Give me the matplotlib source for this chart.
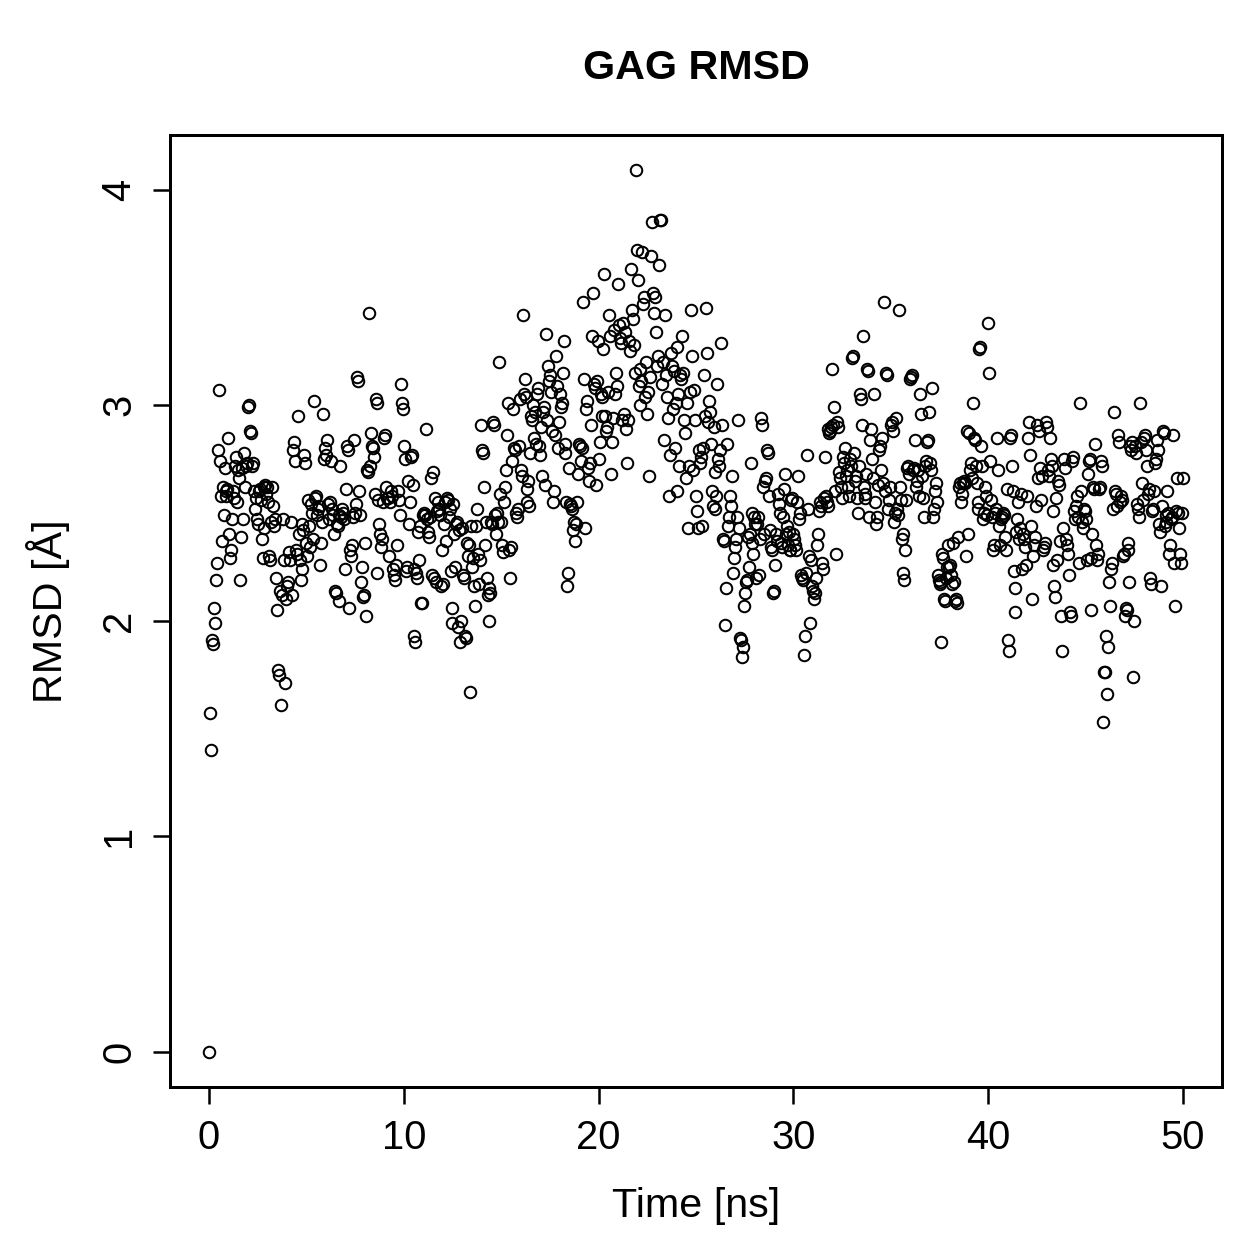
import numpy as np
import matplotlib
matplotlib.use("Agg")
import matplotlib.pyplot as plt

plt.rcParams['font.family'] = ['Liberation Sans', 'DejaVu Sans']

# frame spacing of the trajectory (ns)
dt = 0.05

# RMSD per frame, roughly one row per ns
rmsd = [
    0.00, 1.57, 1.40, 1.91, 1.89, 2.06, 1.99, 2.19, 2.27, 2.79, 3.07, 2.74, 2.58, 2.37, 2.62, 2.49, 2.71, 2.60, 2.58, 2.61,
    2.85, 2.40, 2.29, 2.33, 2.47, 2.60, 2.57, 2.72, 2.76, 2.55, 2.70, 2.66, 2.19, 2.39, 2.71, 2.47, 2.78, 2.62, 2.72, 2.73,
    2.99, 3.00, 2.88, 2.87, 2.72, 2.73, 2.60, 2.52, 2.57, 2.47, 2.45, 2.60, 2.61, 2.56, 2.38, 2.29, 2.43, 2.62, 2.63, 2.59, 2.62, 2.55, 2.30,
    2.28, 2.46, 2.62, 2.53, 2.44, 2.47, 2.20, 2.05, 1.77, 1.75, 2.14, 1.61, 2.12, 2.47, 2.28, 1.71, 2.10, 2.16, 2.18, 2.32, 2.28, 2.46, 2.12,
    2.79, 2.83, 2.74, 2.33, 2.31, 2.95, 2.40, 2.28, 2.19, 2.24, 2.45, 2.42, 2.77, 2.73, 2.36, 2.30, 2.56, 2.44, 2.34, 2.54, 2.50, 2.38,
    3.02, 2.57, 2.58, 2.49, 2.52, 2.53, 2.26, 2.36, 2.46, 2.96, 2.75, 2.80, 2.77, 2.84, 2.54, 2.47, 2.55, 2.74, 2.52, 2.49,
    2.40, 2.14, 2.13, 2.45, 2.44, 2.09, 2.49, 2.72, 2.48, 2.52, 2.50, 2.47, 2.24, 2.61, 2.81, 2.79, 2.06, 2.33, 2.30, 2.35,
    2.48, 2.84, 2.50, 2.54, 3.13, 3.11, 2.60, 2.49, 2.18, 2.25, 2.11, 2.12, 2.36, 2.02, 2.70, 2.69, 3.43, 2.72, 2.87, 2.81,
    2.80, 2.76, 2.59, 3.03, 3.01, 2.22, 2.56, 2.45, 2.40, 2.34, 2.38, 2.55, 2.85, 2.86, 2.62, 2.57, 2.57, 2.30, 2.55, 2.60,
    2.58, 2.24, 2.21, 2.19, 2.26, 2.35, 2.60, 2.56, 2.49, 3.10, 3.01, 2.98, 2.81, 2.75, 2.23, 2.25, 2.65, 2.45, 2.55, 2.76,
    2.77, 2.63, 1.93, 2.24, 1.90, 2.22, 2.20, 2.41, 2.28, 2.44, 2.08, 2.08, 2.49, 2.50, 2.49, 2.89, 2.47, 2.41, 2.39, 2.48,
    2.66, 2.21, 2.69, 2.20, 2.57, 2.18, 2.51, 2.55, 2.52, 2.49, 2.16, 2.33, 2.17, 2.45, 2.55, 2.37, 2.57, 2.56, 2.48, 2.52,
    2.23, 2.06, 1.99, 2.54, 2.40, 2.25, 2.45, 2.46, 1.97, 2.42, 1.90, 2.00, 2.43, 2.21, 2.20, 1.93, 1.92, 2.36, 2.30, 2.35,
    1.67, 2.44, 2.25, 2.29, 2.16, 2.07, 2.44, 2.52, 2.31, 2.17, 2.28, 2.91, 2.79, 2.78, 2.62, 2.35, 2.46, 2.20, 2.12, 2.15,
    2.00, 2.13, 2.46, 2.45, 2.92, 2.91, 2.49, 2.40, 2.50, 2.46, 3.20, 2.59, 2.46, 2.35, 2.32, 2.55, 2.62, 2.70, 2.86, 3.01,
    2.33, 2.20, 2.34, 2.74, 2.98, 2.80, 2.79, 2.50, 2.48, 2.52, 2.81, 3.03, 2.70, 2.67, 3.42, 3.05, 3.12, 3.04, 2.55, 2.61,
    2.65, 2.53, 2.78, 2.95, 2.93, 3.00, 2.85, 2.97, 2.82, 3.05, 3.08, 2.81, 2.77, 2.90, 2.67, 2.97, 2.99, 2.63, 3.33, 2.93,
    3.18, 3.11, 3.14, 3.06, 2.88, 2.55, 2.60, 2.86, 3.23, 3.09, 2.80, 2.92, 3.05, 2.99, 3.01, 3.15, 3.30, 2.82, 2.78, 2.55,
    2.16, 2.22, 2.71, 2.54, 2.53, 2.52, 2.42, 2.46, 2.37, 2.45, 2.55, 2.68, 2.82, 2.81, 2.74, 2.80, 3.48, 3.12, 2.43, 2.98,
    3.02, 2.71, 2.65, 2.73, 2.91, 3.32, 3.52, 3.10, 3.08, 2.63, 3.11, 3.30, 2.75, 2.83, 3.05, 3.04, 2.95, 3.26, 3.61, 2.95,
    2.88, 2.90, 3.06, 3.42, 3.32, 2.68, 2.83, 2.94, 3.35, 3.05, 3.15, 3.09, 3.56, 3.37, 3.31, 3.29, 2.93, 3.38, 2.96, 3.34,
    2.89, 2.73, 2.93, 3.30, 3.25, 3.63, 3.44, 3.40, 3.28, 3.15, 4.09, 3.72, 3.58, 3.09, 3.00, 3.17, 3.11, 3.71, 3.47, 3.50, 3.04, 3.20, 2.96, 3.06,
    2.67, 3.13, 3.69, 3.85, 3.52, 3.43, 3.50, 3.34, 3.18, 3.23, 3.65, 3.86, 3.86, 3.10, 3.20, 2.84, 3.42, 3.14, 3.04, 2.94, 2.58, 2.77, 3.24,
    3.18, 2.98, 3.16, 2.80, 3.01, 3.27, 2.60, 3.05, 2.72, 3.14, 3.12, 3.32, 3.15, 2.93, 2.87,
    2.66, 3.01, 2.43, 2.72, 3.06, 3.44, 3.23, 2.70, 3.07, 2.93, 2.58, 2.51, 2.43, 2.79, 2.73, 2.76,
    2.44, 2.80, 3.14, 2.95, 3.45, 3.24, 2.92, 3.02, 2.97, 2.82, 2.60, 2.53, 2.90, 2.52, 2.69, 2.58, 3.10, 2.75, 2.72, 2.79,
    3.29, 2.91, 2.38, 2.37, 1.98, 2.15, 2.82, 2.44, 2.48, 2.58, 2.53, 2.67, 2.22, 2.29, 2.34, 2.38, 2.48, 2.93,
    2.43, 1.92, 1.91, 1.83, 1.88, 2.07, 2.13, 2.18, 2.19, 2.39, 2.25, 2.40, 2.73, 2.50, 2.36, 2.31, 2.48, 2.45,
    2.20, 2.45, 2.48, 2.21, 2.38, 2.94, 2.91, 2.62, 2.40, 2.65, 2.66, 2.79, 2.78, 2.58, 2.42, 2.34, 2.33, 2.13,
    2.14, 2.26, 2.40, 2.37, 2.59, 2.54, 2.50, 2.36, 2.34, 2.48, 2.61, 2.68, 2.40, 2.44, 2.35, 2.41, 2.33, 2.33, 2.56, 2.57,
    2.40, 2.38, 2.35, 2.33, 2.55, 2.67, 2.47, 2.50, 2.21, 2.20, 2.19, 1.84, 1.93, 2.22, 2.77, 2.52, 2.30, 1.99, 2.28, 2.16,
    2.14, 2.10, 2.13, 2.20, 2.35, 2.40, 2.51, 2.55, 2.53, 2.27, 2.24, 2.57, 2.76, 2.58, 2.55, 2.53, 2.89, 2.87, 2.88, 2.90,
    3.17, 2.91, 2.99, 2.60, 2.31, 2.92, 2.90, 2.69, 2.66, 2.62, 2.57, 2.76, 2.73, 2.80, 2.67, 2.70, 2.62, 2.58, 2.75, 2.72,
    3.22, 3.23, 2.78, 2.65, 2.67, 2.57, 2.50, 2.72, 3.05, 3.03, 2.91, 3.32, 2.62, 2.57, 2.59, 2.68, 3.17, 3.16, 2.48, 2.84,
    2.89, 2.75, 2.66, 3.05, 2.55, 2.45, 2.48, 2.63, 2.79, 2.81, 2.70, 2.85, 2.64, 3.48, 2.60, 3.15, 3.14, 2.52, 2.56, 2.62,
    2.91, 2.92, 2.88, 2.46, 2.50, 2.94, 2.52, 2.49, 3.44, 2.62, 2.56, 2.38, 2.40, 2.22, 2.19, 2.33, 2.56, 2.71, 2.72, 2.68,
    3.12, 3.13, 3.14, 2.70, 2.71, 2.84, 2.62, 2.65, 2.70, 2.58, 3.05, 2.96, 2.67, 2.57, 2.48, 2.72, 2.74, 2.83, 2.84, 2.97,
    2.73, 2.70, 3.08, 2.48, 2.52, 2.60, 2.64, 2.55, 2.21, 2.19, 2.18, 2.17, 1.90, 2.31, 2.29, 2.10, 2.09, 2.20, 2.25, 2.35,
    2.25, 2.26, 2.21, 2.17, 2.36, 2.18, 2.09, 2.10, 2.08, 2.39, 2.62, 2.64, 2.55, 2.59, 2.64, 2.65, 2.64, 2.30, 2.88, 2.40,
    2.87, 2.70, 2.73, 2.66, 3.01, 2.85, 2.84, 2.72, 2.64, 2.55, 2.52, 3.26, 3.27, 2.81, 2.72, 2.47, 2.50, 2.62, 2.58, 2.49,
    3.38, 3.15, 2.74, 2.56, 2.48, 2.33, 2.35, 2.50, 2.52, 2.85, 2.70, 2.44, 2.35, 2.47, 2.48, 2.50, 2.49, 2.39, 2.33, 2.61,
    1.91, 1.86, 2.85, 2.86, 2.72, 2.60, 2.23, 2.15, 2.04, 2.41, 2.47, 2.55, 2.38, 2.43, 2.59, 2.24, 2.40, 2.38, 2.34, 2.26,
    2.58, 2.85, 2.92, 2.77, 2.44, 2.10, 2.30, 2.35, 2.39, 2.53, 2.91, 2.66, 2.88, 2.71, 2.56, 2.67, 2.33, 2.34, 2.36, 2.92,
    2.90, 2.70, 2.67, 2.85, 2.75, 2.72, 2.26, 2.51, 2.16, 2.11, 2.57, 2.28, 2.65, 2.63, 2.37, 2.02, 1.86, 2.43, 2.75, 2.71,
    2.38, 2.35, 2.31, 2.21, 2.04, 2.02, 2.74, 2.76, 2.51, 2.47, 2.53, 2.58, 2.48, 2.27, 3.01, 2.60, 2.46, 2.43, 2.52, 2.51,
    2.47, 2.28, 2.68, 2.74, 2.75, 2.29, 2.05, 2.40, 2.62, 2.61, 2.82, 2.35, 2.28, 2.31, 2.61, 2.62, 2.74, 2.72, 1.53, 1.76,
    1.76, 1.93, 1.66, 1.88, 2.18, 2.07, 2.24, 2.27, 2.52, 2.97, 2.60, 2.59, 2.53, 2.86, 2.83, 2.55, 2.58, 2.56, 2.30, 2.31,
    2.02, 2.06, 2.05, 2.36, 2.33, 2.18, 2.81, 2.79, 2.83, 1.74, 2.00, 2.81, 2.78, 2.54, 2.52, 2.48, 3.01, 2.83, 2.64, 2.56,
    2.85, 2.86, 2.79, 2.72, 2.59, 2.61, 2.20, 2.17, 2.51, 2.52, 2.60, 2.73, 2.75, 2.84, 2.79, 2.45, 2.41, 2.16, 2.53, 2.88,
    2.87, 2.44, 2.49, 2.46, 2.60, 2.50, 2.31, 2.35, 2.47, 2.48, 2.86, 2.27, 2.07, 2.51, 2.66, 2.50, 2.43, 2.31, 2.27, 2.50,
    2.66,
]
rmsd = np.array(rmsd)
time_ns = np.arange(len(rmsd)) * dt

x_ticks = [0, 10, 20, 30, 40, 50]
y_ticks = [0, 1, 2, 3, 4]

fig = plt.figure(figsize=(1259 / 180, 1259 / 180), dpi=180)
ax = fig.add_axes([170 / 1259, 1 - 1087 / 1259, (1222 - 170) / 1259, (1087 - 135) / 1259])

ax.plot(time_ns, rmsd, linestyle='none', marker='o', markersize=4.6,
        markerfacecolor='none', markeredgecolor='black', markeredgewidth=0.8)

# R style 4% padding on both axes
xr = time_ns.max() - time_ns.min()
yr = rmsd.max() - rmsd.min()
ax.set_xlim(time_ns.min() - 0.04 * xr, time_ns.max() + 0.04 * xr)
ax.set_ylim(rmsd.min() - 0.04 * yr, rmsd.max() + 0.04 * yr)

ax.set_xticks(x_ticks)
ax.set_yticks(y_ticks)
ax.set_yticklabels([str(v) for v in y_ticks], rotation=90, va='center')
ax.tick_params(direction='out', length=6.8, width=1.0, labelsize=16, pad=6)

for sp in ax.spines.values():
    sp.set_linewidth(1.2)

ax.set_xlabel('Time [ns]', fontsize=16.5, labelpad=12)
ax.set_ylabel('RMSD [Å]', fontsize=16.5, labelpad=12)
fig.text(696 / 1259, 1 - 68 / 1259, 'GAG RMSD', ha='center', va='center',
         fontsize=16.5, fontweight='bold')

fig.savefig('out.png', dpi=180)
